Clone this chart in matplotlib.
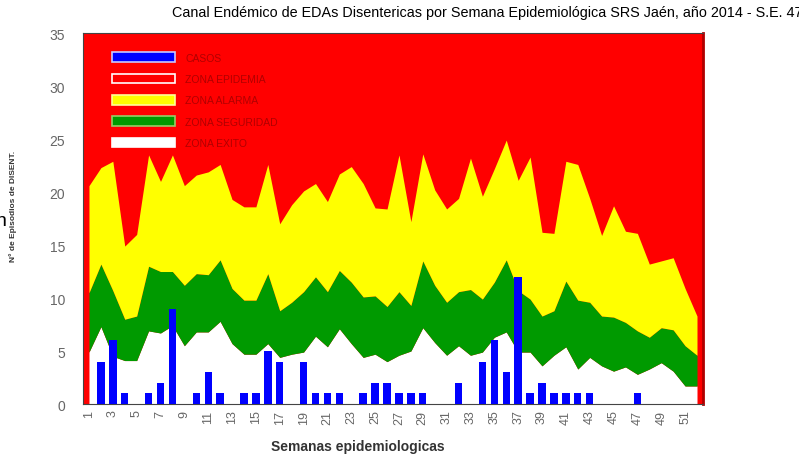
import numpy as np
import matplotlib.pyplot as plt
from matplotlib.patches import Patch

plt.rcParams['font.family'] = ['Liberation Sans', 'DejaVu Sans']

# Semanas epidemiologicas 1..52
semanas = list(range(1, 53))

# Casos notificados por semana
casos = [0, 4, 6, 1, 0, 1, 2, 9, 0, 1, 3, 1, 0, 1, 1, 5, 4, 0, 4, 1,
         1, 1, 0, 1, 2, 2, 1, 1, 1, 0, 0, 2, 0, 4, 6, 3, 12, 1, 2, 1,
         1, 1, 1, 0, 0, 0, 1, 0, 0, 0, 0, 0]

# Limites superiores de cada zona del canal endemico
tope_exito = [4.9, 7.3, 4.5, 4.1, 4.1, 6.9, 6.7, 7.4, 5.5, 6.8, 6.8, 7.8, 5.7,
              4.7, 4.7, 5.7, 4.4, 4.7, 4.9, 6.4, 5.4, 7.1, 5.7, 4.4, 4.7, 4.0,
              4.6, 5.0, 7.2, 5.8, 4.6, 5.5, 4.6, 4.9, 6.3, 6.8, 4.9, 4.9, 3.6,
              4.6, 5.4, 3.3, 4.4, 3.6, 3.1, 3.5, 2.8, 3.3, 3.9, 3.1, 1.7, 1.7]
tope_seguridad = [10.5, 13.2, 10.7, 8.0, 8.3, 13.0, 12.5, 12.5, 11.2, 12.3, 12.2,
                  13.6, 10.9, 9.8, 9.8, 12.3, 8.8, 9.6, 10.6, 12.0, 10.6, 12.6,
                  11.5, 10.1, 10.2, 9.2, 10.6, 9.3, 13.5, 11.2, 9.6, 10.6, 10.8,
                  9.9, 11.5, 13.6, 10.7, 9.9, 8.3, 8.8, 11.6, 9.8, 9.6, 8.3, 8.2,
                  7.7, 6.9, 6.3, 7.2, 7.0, 5.5, 4.6]
tope_alarma = [20.6, 22.3, 22.9, 14.9, 16.0, 23.5, 21.0, 23.5, 20.6, 21.6, 21.9,
               22.6, 19.3, 18.6, 18.6, 22.6, 17.0, 18.8, 20.1, 20.8, 19.1, 21.7,
               22.4, 20.8, 18.5, 18.4, 23.5, 17.2, 23.6, 20.2, 18.4, 19.4, 23.2,
               19.6, 22.2, 24.9, 21.1, 23.3, 16.2, 16.1, 22.9, 22.6, 19.4, 15.9,
               18.7, 16.3, 16.1, 13.2, 13.5, 13.8, 10.9, 8.3]

etiquetas = ["CASOS", "ZONA EPIDEMIA", "ZONA ALARMA", "ZONA SEGURIDAD", "ZONA EXITO"]

ROJO = "#ff0000"
AMARILLO = "#ffff00"
VERDE = "#009a00"
AZUL = "#0000ff"

fig = plt.figure(figsize=(7.99, 4.77), dpi=100)
ax = fig.add_axes([0.1039, 0.1509, 0.7759, 0.7778])
ax.set_facecolor(ROJO)

ax.fill_between(semanas, 0, tope_exito, color="white", lw=0)
ax.fill_between(semanas, tope_exito, tope_seguridad, color=VERDE, lw=0)
ax.fill_between(semanas, tope_seguridad, tope_alarma, color=AMARILLO, lw=0)
ax.bar(semanas, casos, width=0.62, color=AZUL, zorder=3)

ax.set_xlim(0.5, 52.5)
ax.set_ylim(0, 35)
ax.set_xticks(semanas[::2])
ax.set_xticklabels([str(s) for s in semanas[::2]], rotation=90)
ax.set_yticks(range(0, 36, 5))
ax.tick_params(axis="x", length=0, pad=4, labelsize=9, labelcolor="#666666")
ax.tick_params(axis="y", length=0, pad=13, labelsize=10, labelcolor="#666666")

for lado in ["left", "top", "bottom"]:
    ax.spines[lado].set_color("#444444")
    ax.spines[lado].set_linewidth(0.8)
ax.spines["right"].set_color("#b00000")
ax.spines["right"].set_linewidth(2)

manejadores = [
    Patch(facecolor=AZUL, edgecolor="#c8c8ff", lw=1.2),
    Patch(facecolor=ROJO, edgecolor="white", lw=1.2),
    Patch(facecolor=AMARILLO, edgecolor="#ffff99", lw=1.2),
    Patch(facecolor=VERDE, edgecolor="#99cc66", lw=1.2),
    Patch(facecolor="white", edgecolor="white", lw=1.2),
]
ax.legend(manejadores, etiquetas, loc="upper left", bbox_to_anchor=(0.0387, 0.962),
          frameon=False, borderpad=0, fontsize=7.5, labelcolor="#b00000",
          handlelength=6.05, handleheight=1.06, handletextpad=0.95, labelspacing=1.05)

fig.text(172 / 799, 1 - 13 / 477,
         "Canal Endémico de EDAs Disentericas por Semana Epidemiológica SRS Jaén, año 2014 - S.E. 47",
         ha="left", va="center", fontsize=10.4)
fig.text(358 / 799, 1 - 447 / 477, "Semanas epidemiologicas", ha="center", va="center",
         fontsize=10, fontweight="bold", color="#333333")
fig.text(13 / 799, 1 - 206 / 477, "N° de Episodios de DISENT.", rotation=90,
         ha="center", va="center", fontsize=6, fontweight="bold", color="#333333")
fig.text(7 / 799, 1 - 222 / 477, "n", ha="right", va="center", fontsize=14)

fig.savefig("out.png", dpi=100)
